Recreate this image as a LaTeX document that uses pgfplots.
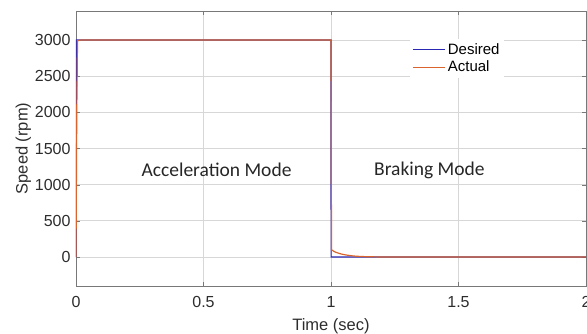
\documentclass[border=0pt]{standalone}
\usepackage{fontspec}
\setmainfont{Liberation Sans}
\newfontfamily\calfont{Carlito}
\usepackage{pgfplots}
\pgfplotsset{compat=1.18}
\definecolor{desiredc}{RGB}{40,40,180}
\definecolor{actualc}{RGB}{217,100,45}
\definecolor{gridc}{RGB}{215,215,215}
\definecolor{axc}{RGB}{120,120,120}
\definecolor{txc}{RGB}{45,45,45}
\begin{document}
\begin{tikzpicture}
\useasboundingbox (0pt,0pt) rectangle (587pt,334pt);
\begin{axis}[
  at={(76pt,48pt)}, anchor=south west,
  scale only axis, width=510pt, height=275pt,
  xmin=0, xmax=2, ymin=-400, ymax=3400,
  xtick={0,0.5,1,1.5,2}, ytick={0,500,1000,1500,2000,2500,3000},
  xticklabels={0,0.5,1,1.5,2},
  grid=major, major grid style={gridc, line width=0.8pt},
  axis line style={axc, line width=0.8pt},
  tick style={axc}, tick align=inside, major tick length=4pt,
  ticklabel style={font=\fontsize{16}{18}\selectfont, text=txc},
  /pgf/number format/assume math mode=true,
  /pgf/number format/1000 sep={},
  scaled ticks=false,
  xlabel={Time (sec)}, ylabel={Speed (rpm)},
  label style={font=\fontsize{16.5}{19}\selectfont, text=txc},
  xlabel style={yshift=-4pt},
  ylabel style={yshift=-3pt},
  xticklabel style={yshift=-7pt},
  yticklabel style={xshift=-2pt},
  legend style={at={(axis description cs:0.655,0.90)}, anchor=north west,
    draw=none, fill=white, font=\fontsize{15}{17}\selectfont,
    inner xsep=2pt, inner ysep=3pt, row sep=1pt},
  legend cell align=left,
  legend image post style={xscale=1.9},
  clip=true,
]
\addplot[desiredc, line width=1.2pt] coordinates {
  (0,0) (0.002,3000) (1.0,3000) (1.0005,0) (2,0)
};
\addlegendentry{Desired}
\addplot[actualc, line width=1.2pt] coordinates {
  (0,0) (0.003,2000) (0.006,2990) (0.02,3000) (1.0,3000) (1.002,100)
  (1.01,82) (1.02,64) (1.04,42) (1.06,28) (1.08,18) (1.10,11)
  (1.13,6) (1.16,3) (1.20,1) (1.30,0) (2,0)
};
\addlegendentry{Actual}
\node[font=\calfont\fontsize{19.5}{22}\selectfont, text=black!85, anchor=center]
  at (axis cs:0.551,1200) {Acceleration Mode};
\node[font=\calfont\fontsize{19.5}{22}\selectfont, text=black!85, anchor=center]
  at (axis cs:1.386,1200) {Braking Mode};
\end{axis}
\end{tikzpicture}
\end{document}
